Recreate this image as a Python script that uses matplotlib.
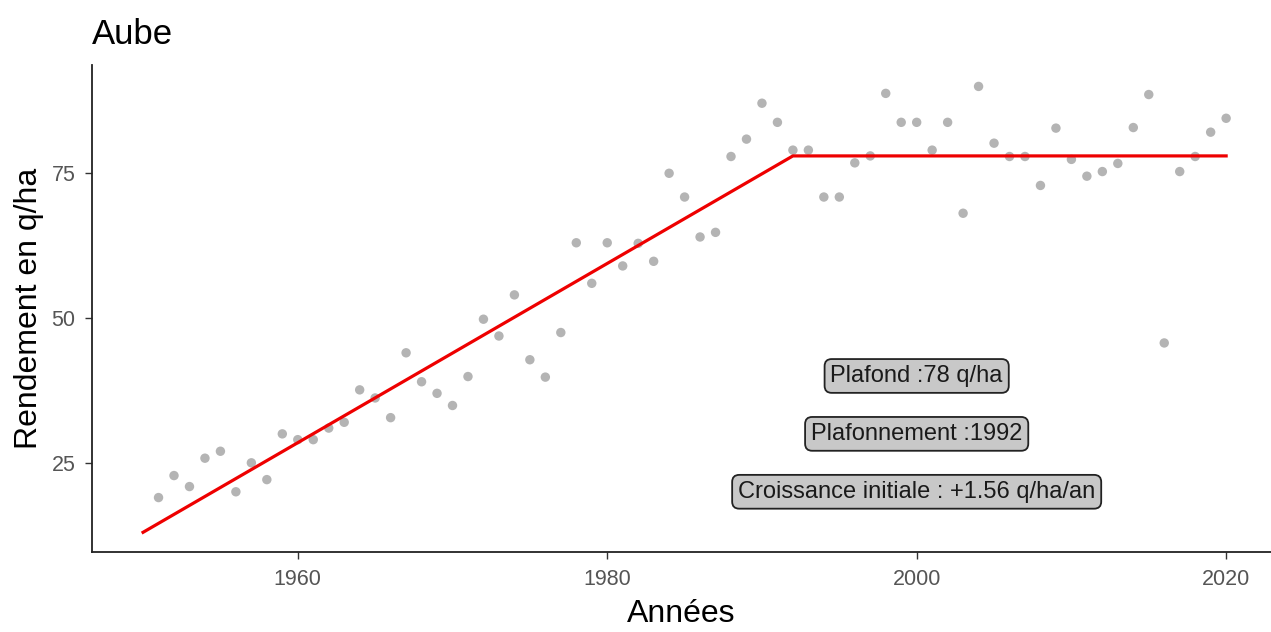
import matplotlib
matplotlib.use("Agg")
import matplotlib.pyplot as plt

plt.rcParams['font.family'] = ['Liberation Sans', 'DejaVu Sans']

years = list(range(1951, 2021))
yields = [19.0, 22.8, 20.9, 25.8, 27.0, 20.0, 25.0, 22.1, 30.0, 29.0,
          29.0, 31.0, 32.0, 37.6, 36.2, 32.8, 44.0, 39.0, 37.0, 34.9,
          39.9, 49.8, 46.9, 54.0, 42.8, 39.8, 47.5, 63.0, 56.0, 63.0,
          59.0, 62.9, 59.8, 75.0, 70.9, 64.0, 64.8, 77.9, 80.9, 87.1,
          83.8, 79.0, 79.0, 70.9, 70.9, 76.8, 78.0, 88.8, 83.8, 83.8,
          79.0, 83.8, 68.1, 90.0, 80.2, 77.9, 77.9, 72.9, 82.8, 77.4,
          74.5, 75.3, 76.7, 82.9, 88.6, 45.7, 75.3, 77.9, 82.1, 84.5]

fit_years = [1950, 1992, 2020]
fit_values = [13.0, 78.0, 78.0]

labels = ["Plafond :78 q/ha", "Plafonnement :1992", "Croissance initiale : +1.56 q/ha/an"]
label_x = [2000, 2000, 2000]
label_y = [40, 30, 20]

fig = plt.figure(figsize=(12.71, 6.32), dpi=100)
ax = fig.add_axes([92/1271, 1 - 552/632, (1271 - 92)/1271, (552 - 65)/632])

ax.scatter(years, yields, s=46, color='#b4b4b4', edgecolors='none', zorder=2)
ax.plot(fit_years, fit_values, color='#ee0000', lw=2.3, zorder=3)

for t, x, y in zip(labels, label_x, label_y):
    ax.text(x, y, t, ha='center', va='center', fontsize=17, color='#1a1a1a', zorder=4,
            bbox=dict(boxstyle='round,pad=0.25,rounding_size=0.3', fc='#c8c8c8', ec='#222222', lw=1.3))

ax.set_xlim(1946.7, 2022.9)
ax.set_ylim(9.6, 93.7)
ax.set_xticks([1960, 1980, 2000, 2020])
ax.set_yticks([25, 50, 75])
ax.tick_params(labelsize=15.5, labelcolor='#555555', color='#333333', length=5, width=1, pad=7)
for s in ['top', 'right']:
    ax.spines[s].set_visible(False)
for s in ['left', 'bottom']:
    ax.spines[s].set_linewidth(1.3)
    ax.spines[s].set_color('#222222')

ax.set_xlabel('Années', fontsize=23, labelpad=7)
ax.set_ylabel('Rendement en q/ha', fontsize=23, labelpad=5)
ax.set_title('Aube', loc='left', fontsize=25, pad=15)

fig.savefig('out.png', dpi=100)
